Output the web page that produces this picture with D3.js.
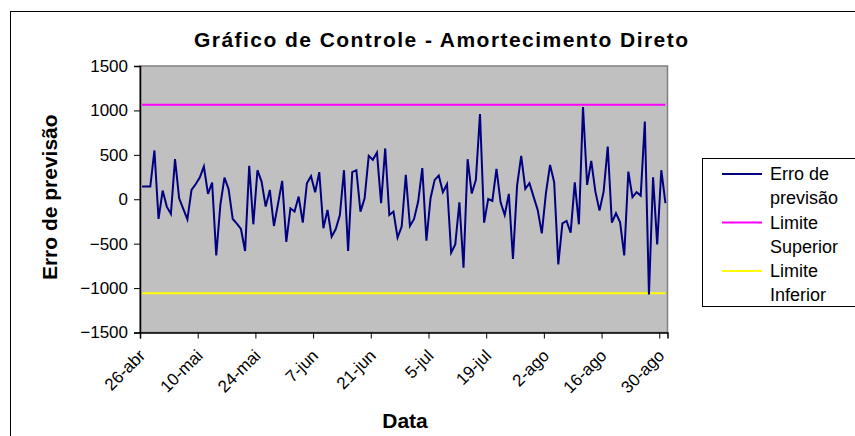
<!DOCTYPE html>
<html>
<head>
<meta charset="utf-8">
<script src="https://cdn.jsdelivr.net/npm/d3@7"></script>
<style>
    body { margin: 0; background: #fff; }
    svg { display: block; font-family: 'Liberation Sans', Arial, sans-serif; }
</style>
</head>
<body>
<svg id="chart" width="855" height="436"></svg>
<script>
// daily forecast errors starting 26-abr
const startDate = new Date(2000, 3, 26);
const errorValues = [
    143, 143, 143, 549, -222, 98, -83, -165, 451, 11,
    -108, -226, 105, 169, 244, 368, 60, 188, -632, -64,
    244, 113, -222, -275, -335, -583, 376, -282, 327, 199,
    -83, 105, -301, -50, 207, -481, -102, -139, 30, -263,
    180, 260, 79, 305, -327, -120, -421, -335, -177, 327,
    -583, 305, 327, -139, 11, 489, 444, 526, -45, 572,
    -177, -139, -432, -308, 274, -301, -222, -26, 350, -466,
    11, 218, 267, 79, 169, -602, -508, -34, -771, 451,
    64, 218, 959, -263, 4, -19, 342, -34, -177, 60,
    -673, 154, 489, 117, 180, 30, -120, -384, 68, 387,
    192, -733, -271, -244, -376, 190, -282, 1038, 162, 432,
    86, -128, 86, 594, -263, -158, -259, -632, 312, 23,
    79, 41, 876, -1072, 248, -508, 327, -45
];
const upperLimit = 1065;
const lowerLimit = -1058;

const yTicks = [-1500, -1000, -500, 0, 500, 1000, 1500];
const xTickLabels = ['26-abr', '10-mai', '24-mai', '7-jun', '21-jun', '5-jul', '19-jul', '2-ago', '16-ago', '30-ago'];
const seriesNames = ['Erro de|previsão', 'Limite|Superior', 'Limite|Inferior'];
const seriesColors = ['#000080', '#ff00ff', '#ffff00'];

const dates = errorValues.map((v, i) => d3.timeDay.offset(startDate, i));
const xTickDates = xTickLabels.map((l, i) => d3.timeDay.offset(startDate, i * 14));

const svg = d3.select('#chart');
const plot = { left: 140, right: 667.5, top: 66, bottom: 332.5 };

// outer chart border
svg.append('rect')
    .attr('x', 10.5).attr('y', 11.5)
    .attr('width', 900).attr('height', 500)
    .attr('fill', '#fff').attr('stroke', '#000').attr('stroke-width', 1);

const x = d3.scaleTime()
    .domain([startDate, d3.timeDay.offset(startDate, errorValues.length)])
    .range([plot.left, plot.right]);

const y = d3.scaleLinear()
    .domain([-1500, 1500])
    .range([plot.bottom, plot.top]);

// point sits in the middle of its day
const xMid = (d) => x(d) + (x(d3.timeDay.offset(startDate, 1)) - x(startDate)) / 2;

svg.append('rect')
    .attr('x', plot.left).attr('y', plot.top)
    .attr('width', plot.right - plot.left).attr('height', plot.bottom - plot.top)
    .attr('fill', '#c0c0c0').attr('stroke', '#808080').attr('stroke-width', 1.5);

// axes
const yAxis = svg.append('g')
    .attr('transform', `translate(${plot.left},0)`)
    .call(d3.axisLeft(y).tickValues(yTicks).tickSize(6).tickPadding(6).tickFormat(d3.format('d')));

const xAxis = svg.append('g')
    .attr('transform', `translate(0,${plot.bottom})`)
    .call(d3.axisBottom(x).tickValues(xTickDates).tickSize(6).tickFormat(() => ''));

[yAxis, xAxis].forEach((g) => {
    g.select('.domain').attr('stroke', '#000').attr('stroke-width', 1.5);
    g.selectAll('.tick line').attr('stroke', '#000').attr('stroke-width', 1);
});

yAxis.selectAll('.tick text')
    .attr('font-size', 17).attr('fill', '#000')
    .attr('font-family', "'Liberation Sans', Arial, sans-serif");

svg.append('g')
    .selectAll('text')
    .data(xTickDates)
    .join('text')
    .attr('transform', (d) => `translate(${x(d) + 2},${plot.bottom + 20}) rotate(-45)`)
    .attr('text-anchor', 'end')
    .attr('dy', '0.35em')
    .attr('font-size', 17)
    .text((d, i) => xTickLabels[i]);

// control limits
const limits = [upperLimit, lowerLimit];
svg.append('g')
    .selectAll('line')
    .data(limits)
    .join('line')
    .attr('x1', xMid(dates[0]))
    .attr('x2', xMid(dates[dates.length - 1]))
    .attr('y1', (d) => y(d))
    .attr('y2', (d) => y(d))
    .attr('stroke', (d, i) => seriesColors[i + 1])
    .attr('stroke-width', 2);

// error series
const line = d3.line()
    .x((d, i) => xMid(dates[i]))
    .y((d) => y(d));

svg.append('path')
    .datum(errorValues)
    .attr('d', line)
    .attr('fill', 'none')
    .attr('stroke', seriesColors[0])
    .attr('stroke-width', 2)
    .attr('stroke-linejoin', 'miter');

// titles
svg.append('text')
    .attr('x', 441).attr('y', 47)
    .attr('text-anchor', 'middle')
    .attr('font-size', 21).attr('font-weight', 'bold')
    .attr('textLength', 494).attr('lengthAdjust', 'spacing')
    .text('Gráfico de Controle - Amortecimento Direto');

svg.append('text')
    .attr('transform', `translate(57,${(plot.top + plot.bottom) / 2 - 2}) rotate(-90)`)
    .attr('text-anchor', 'middle')
    .attr('font-size', 21).attr('font-weight', 'bold')
    .text('Erro de previsão');

svg.append('text')
    .attr('x', 405).attr('y', 428)
    .attr('text-anchor', 'middle')
    .attr('font-size', 21).attr('font-weight', 'bold')
    .text('Data');

// legend
const legend = svg.append('g').attr('transform', 'translate(702,158)');
legend.append('rect')
    .attr('x', 0.5).attr('y', 0.5)
    .attr('width', 160).attr('height', 148)
    .attr('fill', '#fff').attr('stroke', '#000');

const items = legend.selectAll('g.item')
    .data(seriesNames)
    .join('g')
    .attr('class', 'item')
    .attr('transform', (d, i) => `translate(0,${16 + i * 48.5})`);

items.append('line')
    .attr('x1', 20).attr('x2', 60)
    .attr('stroke', (d, i) => seriesColors[i])
    .attr('stroke-width', 2);

items.append('text')
    .attr('x', 68)
    .attr('font-size', 18)
    .selectAll('tspan')
    .data((d) => d.split('|'))
    .join('tspan')
    .attr('x', 68)
    .attr('y', (d, i) => 6 + i * 24)
    .text((d) => d);
</script>
</body>
</html>
